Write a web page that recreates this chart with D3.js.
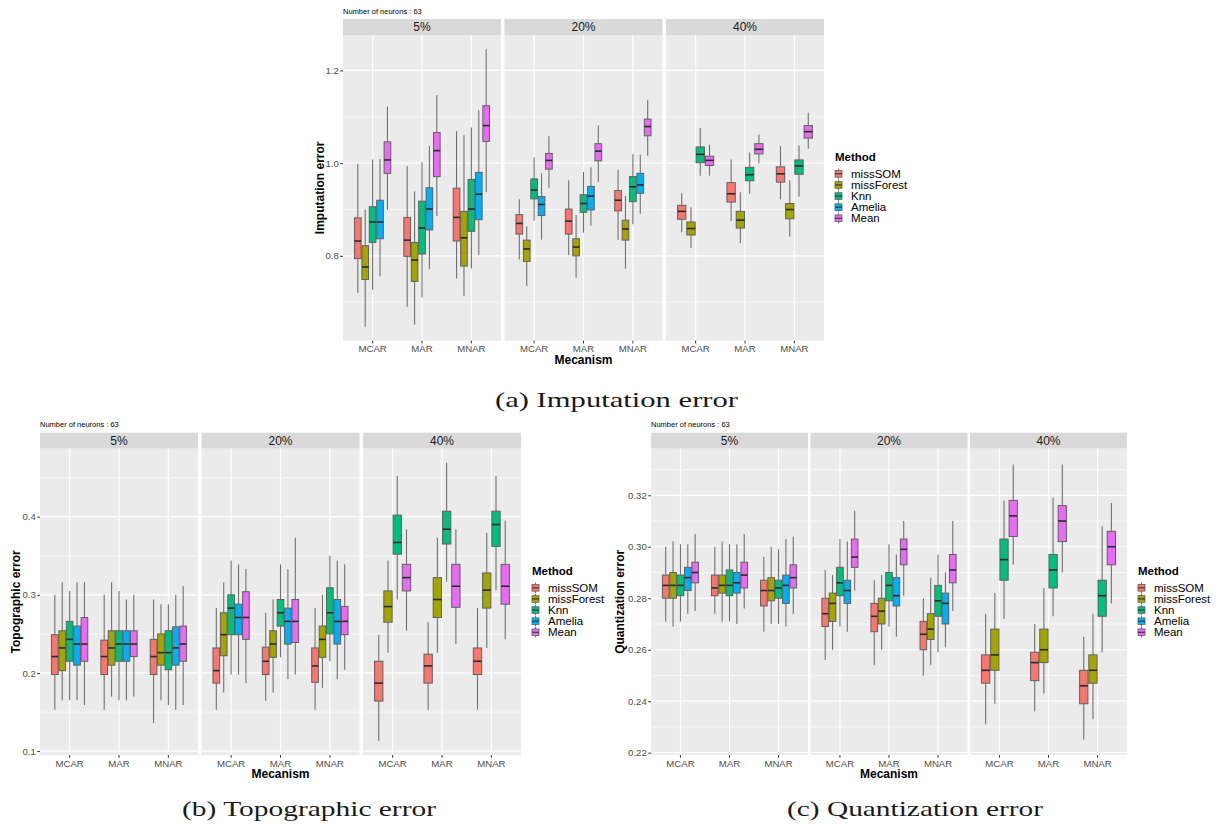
<!DOCTYPE html>
<html><head><meta charset="utf-8">
<script src="https://cdn.jsdelivr.net/npm/d3@7"></script>
<style>
body{margin:0;background:#fff}
svg{display:block}
text{font-family:"Liberation Sans",Arial,sans-serif}
</style>
</head><body><svg id="c" width="1222" height="828"></svg>
<script>
// ---------- categories ----------
const mechanisms = ["MCAR", "MAR", "MNAR"];
const rates = ["5%", "20%", "40%"];
const methods = ["missSOM", "missForest", "Knn", "Amelia", "Mean"];
const methodColors = ["#F8766D", "#A3A500", "#00BF7D", "#00B0F6", "#E76BF3"];

// ---------- data: [mechanism, method, lowerWhisker, q1, median, q3, upperWhisker] ----------
// (a) Imputation error
const imputation5 = [
  ["MCAR","missSOM",0.720,0.794,0.832,0.882,0.999],
  ["MCAR","missForest",0.647,0.749,0.776,0.822,0.900],
  ["MCAR","Knn",0.727,0.829,0.873,0.906,1.008],
  ["MCAR","Amelia",0.756,0.837,0.873,0.920,1.009],
  ["MCAR","Mean",0.899,0.978,1.007,1.046,1.122],
  ["MAR","missSOM",0.690,0.799,0.834,0.883,0.994],
  ["MAR","missForest",0.652,0.745,0.791,0.829,0.939],
  ["MAR","Knn",0.710,0.804,0.860,0.918,1.002],
  ["MAR","Amelia",0.771,0.856,0.901,0.947,1.037],
  ["MAR","Mean",0.886,0.971,1.027,1.066,1.147],
  ["MNAR","missSOM",0.751,0.832,0.883,0.946,1.069],
  ["MNAR","missForest",0.714,0.778,0.839,0.896,1.060],
  ["MNAR","Knn",0.773,0.853,0.901,0.965,1.077],
  ["MNAR","Amelia",0.802,0.878,0.933,0.980,1.114],
  ["MNAR","Mean",0.938,1.047,1.081,1.124,1.246]
];
const imputation20 = [
  ["MCAR","missSOM",0.792,0.847,0.870,0.889,0.922],
  ["MCAR","missForest",0.735,0.788,0.815,0.834,0.864],
  ["MCAR","Knn",0.876,0.923,0.942,0.966,1.012],
  ["MCAR","Amelia",0.835,0.887,0.911,0.928,0.978],
  ["MCAR","Mean",0.947,0.987,1.006,1.021,1.058],
  ["MAR","missSOM",0.802,0.847,0.875,0.901,0.963],
  ["MAR","missForest",0.753,0.800,0.819,0.837,0.888],
  ["MAR","Knn",0.850,0.894,0.913,0.932,0.981],
  ["MAR","Amelia",0.865,0.899,0.929,0.950,0.991],
  ["MAR","Mean",0.960,1.005,1.026,1.042,1.081],
  ["MNAR","missSOM",0.834,0.897,0.920,0.941,0.985],
  ["MNAR","missForest",0.772,0.834,0.858,0.877,0.929],
  ["MNAR","Knn",0.868,0.917,0.949,0.971,1.019],
  ["MNAR","Amelia",0.891,0.935,0.953,0.978,1.018],
  ["MNAR","Mean",1.016,1.059,1.079,1.095,1.136]
];
const imputation40 = [
  ["MCAR","missSOM",0.851,0.879,0.896,0.909,0.935],
  ["MCAR","missForest",0.817,0.845,0.859,0.873,0.905],
  ["MCAR","Knn",0.973,1.001,1.019,1.035,1.076],
  ["MCAR","Mean",0.973,0.995,1.006,1.015,1.040],
  ["MAR","missSOM",0.875,0.916,0.934,0.958,1.008],
  ["MAR","missForest",0.828,0.860,0.877,0.896,0.937],
  ["MAR","Knn",0.934,0.962,0.975,0.991,1.023],
  ["MAR","Mean",1.000,1.020,1.030,1.042,1.062],
  ["MNAR","missSOM",0.922,0.959,0.977,0.992,1.037],
  ["MNAR","missForest",0.842,0.880,0.900,0.913,0.963],
  ["MNAR","Knn",0.928,0.976,0.994,1.007,1.038],
  ["MNAR","Mean",1.031,1.054,1.068,1.081,1.109]
];

// (b) Topographic error
const topographic5 = [
  ["MCAR","missSOM",0.153,0.198,0.221,0.249,0.300],
  ["MCAR","missForest",0.165,0.203,0.232,0.254,0.316],
  ["MCAR","Knn",0.165,0.215,0.243,0.266,0.305],
  ["MCAR","Amelia",0.165,0.210,0.237,0.260,0.316],
  ["MCAR","Mean",0.159,0.215,0.237,0.271,0.316],
  ["MAR","missSOM",0.153,0.198,0.221,0.242,0.300],
  ["MAR","missForest",0.170,0.210,0.232,0.254,0.316],
  ["MAR","Knn",0.165,0.215,0.237,0.254,0.305],
  ["MAR","Amelia",0.165,0.215,0.237,0.254,0.294],
  ["MAR","Mean",0.170,0.221,0.237,0.254,0.300],
  ["MNAR","missSOM",0.136,0.198,0.221,0.243,0.294],
  ["MNAR","missForest",0.165,0.210,0.226,0.250,0.288],
  ["MNAR","Knn",0.159,0.204,0.226,0.254,0.288],
  ["MNAR","Amelia",0.153,0.210,0.232,0.259,0.300],
  ["MNAR","Mean",0.159,0.215,0.237,0.260,0.311]
];
const topographic20 = [
  ["MCAR","missSOM",0.153,0.187,0.203,0.232,0.283],
  ["MCAR","missForest",0.175,0.222,0.249,0.277,0.316],
  ["MCAR","Knn",0.198,0.249,0.283,0.300,0.344],
  ["MCAR","Amelia",0.198,0.249,0.271,0.288,0.339],
  ["MCAR","Mean",0.187,0.243,0.271,0.304,0.333],
  ["MAR","missSOM",0.164,0.198,0.215,0.233,0.277],
  ["MAR","missForest",0.175,0.220,0.237,0.254,0.294],
  ["MAR","Knn",0.220,0.260,0.277,0.294,0.339],
  ["MAR","Amelia",0.192,0.237,0.266,0.283,0.333],
  ["MAR","Mean",0.198,0.239,0.266,0.294,0.373],
  ["MNAR","missSOM",0.153,0.188,0.209,0.232,0.283],
  ["MNAR","missForest",0.181,0.220,0.243,0.260,0.300],
  ["MNAR","Knn",0.215,0.250,0.277,0.309,0.350],
  ["MNAR","Amelia",0.192,0.237,0.266,0.294,0.344],
  ["MNAR","Mean",0.204,0.249,0.266,0.285,0.339]
];
const topographic40 = [
  ["MCAR","missSOM",0.113,0.164,0.187,0.215,0.249],
  ["MCAR","missForest",0.226,0.265,0.285,0.305,0.344],
  ["MCAR","Knn",0.294,0.352,0.367,0.402,0.452],
  ["MCAR","Mean",0.254,0.305,0.322,0.339,0.384],
  ["MAR","missSOM",0.153,0.187,0.209,0.224,0.265],
  ["MAR","missForest",0.226,0.271,0.294,0.322,0.373],
  ["MAR","Knn",0.317,0.365,0.384,0.407,0.469],
  ["MAR","Mean",0.237,0.284,0.311,0.339,0.384],
  ["MNAR","missSOM",0.153,0.198,0.215,0.232,0.283],
  ["MNAR","missForest",0.232,0.283,0.306,0.328,0.379],
  ["MNAR","Knn",0.306,0.362,0.390,0.407,0.452],
  ["MNAR","Mean",0.243,0.288,0.311,0.339,0.395]
];

// (c) Quantization error
const quantization5 = [
  ["MCAR","missSOM",0.271,0.280,0.285,0.289,0.300],
  ["MCAR","missForest",0.269,0.280,0.285,0.290,0.302],
  ["MCAR","Knn",0.271,0.281,0.285,0.289,0.301],
  ["MCAR","Amelia",0.274,0.283,0.288,0.292,0.301],
  ["MCAR","Mean",0.275,0.286,0.290,0.294,0.305],
  ["MAR","missSOM",0.274,0.281,0.284,0.289,0.300],
  ["MAR","missForest",0.271,0.282,0.285,0.289,0.302],
  ["MAR","Knn",0.271,0.281,0.285,0.291,0.301],
  ["MAR","Amelia",0.270,0.282,0.286,0.290,0.301],
  ["MAR","Mean",0.276,0.284,0.289,0.294,0.305],
  ["MNAR","missSOM",0.267,0.277,0.283,0.287,0.296],
  ["MNAR","missForest",0.270,0.279,0.283,0.288,0.300],
  ["MNAR","Knn",0.270,0.280,0.284,0.287,0.299],
  ["MNAR","Amelia",0.269,0.278,0.285,0.289,0.303],
  ["MNAR","Mean",0.274,0.284,0.288,0.293,0.304]
];
const quantization20 = [
  ["MCAR","missSOM",0.256,0.269,0.274,0.280,0.291],
  ["MCAR","missForest",0.260,0.271,0.278,0.282,0.289],
  ["MCAR","Knn",0.269,0.281,0.286,0.292,0.303],
  ["MCAR","Amelia",0.267,0.278,0.283,0.287,0.302],
  ["MCAR","Mean",0.283,0.292,0.296,0.303,0.314],
  ["MAR","missSOM",0.254,0.267,0.273,0.278,0.287],
  ["MAR","missForest",0.260,0.270,0.275,0.280,0.289],
  ["MAR","Knn",0.269,0.279,0.285,0.290,0.301],
  ["MAR","Amelia",0.265,0.277,0.281,0.288,0.297],
  ["MAR","Mean",0.281,0.293,0.299,0.303,0.310],
  ["MNAR","missSOM",0.250,0.260,0.266,0.271,0.280],
  ["MNAR","missForest",0.254,0.264,0.268,0.274,0.288],
  ["MNAR","Knn",0.259,0.273,0.279,0.285,0.297],
  ["MNAR","Amelia",0.261,0.270,0.278,0.282,0.290],
  ["MNAR","Mean",0.275,0.286,0.291,0.297,0.310]
];
const quantization40 = [
  ["MCAR","missSOM",0.231,0.247,0.252,0.258,0.274],
  ["MCAR","missForest",0.239,0.252,0.258,0.268,0.282],
  ["MCAR","Knn",0.272,0.287,0.295,0.303,0.318],
  ["MCAR","Mean",0.293,0.304,0.312,0.318,0.332],
  ["MAR","missSOM",0.236,0.248,0.255,0.259,0.270],
  ["MAR","missForest",0.243,0.255,0.260,0.268,0.284],
  ["MAR","Knn",0.273,0.284,0.291,0.297,0.319],
  ["MAR","Mean",0.290,0.302,0.310,0.316,0.332],
  ["MNAR","missSOM",0.225,0.239,0.246,0.252,0.265],
  ["MNAR","missForest",0.233,0.247,0.252,0.258,0.274],
  ["MNAR","Knn",0.259,0.273,0.281,0.287,0.308],
  ["MNAR","Mean",0.278,0.293,0.300,0.306,0.317]
];

// ---------- tick values ----------
const imputationTicks = [0.8, 1.0, 1.2];
const imputationMinor = [0.7, 0.9, 1.1];
const topographicTicks = [0.1, 0.2, 0.3, 0.4];
const topographicMinor = [0.15, 0.25, 0.35, 0.45];
const quantizationTicks = [0.22, 0.24, 0.26, 0.28, 0.30, 0.32];
const quantizationMinor = [0.23, 0.25, 0.27, 0.29, 0.31, 0.33];

const subtitle = "Number of neurons : 63";
const xTitle = "Mecanism";
const legendTitle = "Method";

// ---------- drawing ----------
const svg = d3.select("#c");
const color = d3.scaleOrdinal().domain(methods).range(methodColors);
const tickFont = 9.6;

function drawChart(cfg) {
  const g = svg.append("g");
  const y = d3.scaleLinear().domain(cfg.yDomain).range([cfg.bottom, cfg.top]);
  const stripH = 16;
  const panelW = cfg.pw;

  cfg.data.forEach((rows, ri) => {
    const x0 = cfg.left + ri * (panelW + cfg.gap);
    const x1 = x0 + panelW;
    const pg = g.append("g");

    // strip
    pg.append("rect").attr("x", x0).attr("y", cfg.top - stripH)
      .attr("width", panelW).attr("height", stripH).attr("fill", "#D9D9D9");
    pg.append("text").attr("x", (x0 + x1) / 2).attr("y", cfg.top - stripH / 2 + 4.2)
      .attr("text-anchor", "middle").attr("font-size", 12).attr("fill", "#1A1A1A")
      .text(rates[ri]);

    // panel background
    pg.append("rect").attr("x", x0).attr("y", cfg.top)
      .attr("width", panelW).attr("height", cfg.bottom - cfg.top).attr("fill", "#EBEBEB");

    // grid
    pg.selectAll(".minor").data(cfg.minor.filter(v => y(v) >= cfg.top && y(v) <= cfg.bottom))
      .enter().append("line")
      .attr("x1", x0).attr("x2", x1).attr("y1", d => y(d)).attr("y2", d => y(d))
      .attr("stroke", "#fff").attr("stroke-width", 0.6);
    pg.selectAll(".major").data(cfg.ticks)
      .enter().append("line")
      .attr("x1", x0).attr("x2", x1).attr("y1", d => y(d)).attr("y2", d => y(d))
      .attr("stroke", "#fff").attr("stroke-width", 1.2);

    const xb = d3.scaleBand().domain(mechanisms).range([x0, x1]).paddingInner(0).paddingOuter(0.1);
    const step = xb.bandwidth();
    const cx = m => xb(m) + step / 2;
    pg.selectAll(".vgrid").data(mechanisms).enter().append("line")
      .attr("x1", cx).attr("x2", cx).attr("y1", cfg.top).attr("y2", cfg.bottom)
      .attr("stroke", "#fff").attr("stroke-width", 1.2);

    // x axis
    const xa = pg.append("g").attr("transform", `translate(0,${cfg.bottom})`)
      .call(d3.axisBottom(xb).tickSize(2.75).tickPadding(2));
    xa.select(".domain").remove();
    xa.selectAll("line").attr("stroke", "#333");
    xa.selectAll("text").attr("font-size", tickFont).attr("fill", "#4D4D4D")
      .attr("font-family", "Liberation Sans, Arial, sans-serif");

    // boxes
    mechanisms.forEach(m => {
      const sub = rows.filter(r => r[0] === m);
      const present = methods.filter(k => sub.some(r => r[1] === k));
      const inner = d3.scaleBand().domain(present)
        .range([cx(m) - 0.375 * step, cx(m) + 0.375 * step])
        .paddingInner(0.1).paddingOuter(0.05);
      const bw = inner.bandwidth();
      const bg = pg.append("g");
      const items = bg.selectAll("g").data(sub).enter().append("g");
      const bcx = d => inner(d[1]) + bw / 2;
      items.append("line").attr("x1", bcx).attr("x2", bcx)
        .attr("y1", d => y(d[6])).attr("y2", d => y(d[5]))
        .attr("stroke", "#707070").attr("stroke-width", 1.1);
      items.append("line").attr("x1", bcx).attr("x2", bcx)
        .attr("y1", d => y(d[3])).attr("y2", d => y(d[2]))
        .attr("stroke", "#707070").attr("stroke-width", 1.1);
      items.append("rect").attr("x", d => inner(d[1])).attr("width", bw)
        .attr("y", d => y(d[5])).attr("height", d => y(d[3]) - y(d[5]))
        .attr("fill", d => color(d[1])).attr("stroke", "#606060").attr("stroke-width", 1);
      items.append("line").attr("x1", d => inner(d[1])).attr("x2", d => inner(d[1]) + bw)
        .attr("y1", d => y(d[4])).attr("y2", d => y(d[4]))
        .attr("stroke", "#2b2b2b").attr("stroke-width", 1.6);
    });
  });

  // y axis
  const ya = g.append("g").attr("transform", `translate(${cfg.left},0)`)
    .call(d3.axisLeft(y).tickValues(cfg.ticks).tickFormat(d3.format(cfg.fmt)).tickSize(2.75).tickPadding(1.5));
  ya.select(".domain").remove();
  ya.selectAll("line").attr("stroke", "#333");
  ya.selectAll("text").attr("font-size", tickFont).attr("fill", "#4D4D4D")
    .attr("font-family", "Liberation Sans, Arial, sans-serif");

  const rightEdge = cfg.left + 3 * panelW + 2 * cfg.gap;
  const midY = (cfg.top + cfg.bottom) / 2;

  // y title
  g.append("text").attr("transform", `translate(${cfg.yTitleX},${midY}) rotate(-90)`)
    .attr("text-anchor", "middle").attr("font-size", 12).attr("font-weight", "bold")
    .attr("fill", "#000").text(cfg.yTitle);
  // x title
  g.append("text").attr("x", (cfg.left + rightEdge) / 2).attr("y", cfg.bottom + 23)
    .attr("text-anchor", "middle").attr("font-size", 12).attr("font-weight", "bold")
    .attr("fill", "#000").text(xTitle);
  // subtitle
  g.append("text").attr("x", cfg.left).attr("y", cfg.top - 21.5)
    .attr("font-size", 7.5).attr("fill", "#000").text(subtitle);

  // legend
  const lx = rightEdge + 11;
  const lstep = 11.1;
  const ly0 = midY - 14;
  g.append("text").attr("x", lx).attr("y", ly0 - 13).attr("font-size", 11.5)
    .attr("font-weight", "bold").attr("fill", "#000").text(legendTitle);
  const li = g.selectAll(".leg").data(methods).enter().append("g")
    .attr("transform", (d, i) => `translate(${lx},${ly0 + i * lstep})`);
  li.append("line").attr("x1", 3.5).attr("x2", 3.5).attr("y1", -5.2).attr("y2", 5.2)
    .attr("stroke", "#707070").attr("stroke-width", 1);
  li.append("rect").attr("x", 0).attr("y", -3.3).attr("width", 7).attr("height", 6.6)
    .attr("fill", d => color(d)).attr("stroke", "#606060").attr("stroke-width", 0.8);
  li.append("line").attr("x1", 0).attr("x2", 7).attr("y1", 0).attr("y2", 0)
    .attr("stroke", "#2b2b2b").attr("stroke-width", 1);
  li.append("text").attr("x", 16).attr("y", 4).attr("font-size", 11.5).attr("fill", "#000")
    .text(d => d);

  // caption
  g.append("text").attr("x", cfg.capX).attr("y", cfg.capY).attr("text-anchor", "middle")
    .attr("font-size", 22).attr("fill", "#1a1a1a")
    .attr("textLength", cfg.capW).attr("lengthAdjust", "spacingAndGlyphs")
    .style("font-family", "'Liberation Serif', 'Times New Roman', serif")
    .text(cfg.caption);
}

drawChart({
  data: [imputation5, imputation20, imputation40],
  yDomain: [0.617, 1.2765], top: 35, bottom: 340.7,
  left: 343, pw: 158, gap: 3.5,
  ticks: imputationTicks, minor: imputationMinor, fmt: ".1f",
  yTitle: "Imputation error", yTitleX: 323.5,
  caption: "(a) Imputation error", capX: 616.5, capY: 407, capW: 243
});
drawChart({
  data: [topographic5, topographic20, topographic40],
  yDomain: [0.095, 0.487], top: 448.7, bottom: 755,
  left: 40, pw: 158, gap: 3.5,
  ticks: topographicTicks, minor: topographicMinor, fmt: ".1f",
  yTitle: "Topographic error", yTitleX: 20,
  caption: "(b) Topographic error", capX: 309, capY: 816, capW: 254
});
drawChart({
  data: [quantization5, quantization20, quantization40],
  yDomain: [0.2191, 0.3381], top: 448.7, bottom: 755,
  left: 651, pw: 157, gap: 2.5,
  ticks: quantizationTicks, minor: quantizationMinor, fmt: ".2f",
  yTitle: "Quantization error", yTitleX: 624,
  caption: "(c) Quantization error", capX: 915, capY: 816, capW: 256
});
</script></body></html>
